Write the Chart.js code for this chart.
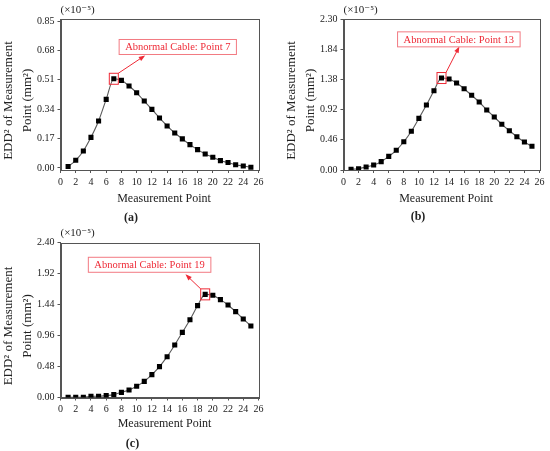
<!DOCTYPE html>
<html>
<head>
<meta charset="utf-8">
<script src="https://cdn.jsdelivr.net/npm/chart.js@4.4.1/dist/chart.umd.min.js"></script>
<style>
  html, body { margin: 0; padding: 0; background: #fff; }
  #wrap { position: relative; width: 550px; height: 451px; background: #fff; }
  canvas { position: absolute; }
</style>
</head>
<body>
<div id="wrap">
  <canvas id="chartA"></canvas>
  <canvas id="chartB"></canvas>
  <canvas id="chartC"></canvas>
</div>
<script>
// Messpunkte und Werte (Einheit 1e-5 mm²)
const measurementPoints = [1, 2, 3, 4, 5, 6, 7, 8, 9, 10, 11, 12, 13, 14, 15, 16, 17, 18, 19, 20, 21, 22, 23, 24, 25];
const xTicks = [0, 2, 4, 6, 8, 10, 12, 14, 16, 18, 20, 22, 24, 26];

const eddA = [0.008, 0.044, 0.098, 0.177, 0.272, 0.397, 0.516, 0.507, 0.474, 0.435, 0.387, 0.339, 0.289,
              0.243, 0.202, 0.168, 0.135, 0.106, 0.081, 0.062, 0.042, 0.031, 0.018, 0.011, 0.004];
const eddB = [0.010, 0.020, 0.046, 0.076, 0.127, 0.208, 0.300, 0.430, 0.590, 0.787, 0.990, 1.208, 1.401,
              1.386, 1.325, 1.238, 1.138, 1.036, 0.914, 0.807, 0.696, 0.599, 0.507, 0.426, 0.361];
const eddC = [0.005, 0.005, 0.005, 0.018, 0.020, 0.030, 0.045, 0.080, 0.116, 0.173, 0.250, 0.354, 0.478,
              0.632, 0.813, 1.009, 1.205, 1.422, 1.597, 1.582, 1.515, 1.432, 1.329, 1.216, 1.107];

const yTicksA = [0.00, 0.17, 0.34, 0.51, 0.68, 0.85];
const yTicksB = [0.00, 0.46, 0.92, 1.38, 1.84, 2.30];
const yTicksC = [0.00, 0.48, 0.96, 1.44, 1.92, 2.40];

const abnormalPoints = [7, 13, 19];
const captions = ["(a)", "(b)", "(c)"];

const SERIF = "'Liberation Serif', 'DejaVu Serif', serif";
const RED = "#ee2a36";

// Panel-Layout (Pixel im Canvas)
const panels = [
  { id: "chartA", left: 0,   top: 0,   w: 275, h: 225, area: { l: 60.5, r: 258.5, t: 19, b: 170 },
    values: eddA, yTicks: yTicksA, yMin: -0.012, yMax: 0.862,
    label: { x: 15.4, y: 0.70 }, arrowTo: { x: 10.9, y: 0.645 }, arrowFrom: "tr",
    xTitle: { x: 164, y: 199 }, caption: { x: 131, y: 218 } },
  { id: "chartB", left: 275, top: 0,   w: 275, h: 225, area: { l: 68.5, r: 264.5, t: 19, b: 170 },
    values: eddB, yTicks: yTicksB, yMin: 0, yMax: 2.30,
    label: { x: 15.3, y: 1.99 }, arrowTo: { x: 15.25, y: 1.855 }, arrowFrom: "tr",
    xTitle: { x: 171, y: 199 }, caption: { x: 143, y: 217 } },
  { id: "chartC", left: 0,   top: 225, w: 275, h: 226, area: { l: 60.5, r: 258.5, t: 17.5, b: 172.5 },
    values: eddC, yTicks: yTicksC, yMin: 0, yMax: 2.40,
    label: { x: 11.7, y: 2.055 }, arrowTo: { x: 16.6, y: 1.886 }, arrowFrom: "tl",
    xTitle: { x: 164.5, y: 199 }, caption: { x: 132.5, y: 218.5 } }
];

// Rahmen, Achsentitel, Beschriftung
const decorPlugin = {
  id: "decor",
  afterDraw(chart) {
    const p = chart.options.plugins.decor.panel;
    const ctx = chart.ctx;
    const a = chart.chartArea;
    ctx.save();
    ctx.strokeStyle = "#555";
    ctx.lineWidth = 1;
    ctx.strokeRect(Math.round(a.left) + 0.5, Math.round(a.top) + 0.5,
                   Math.round(a.right - a.left), Math.round(a.bottom - a.top));

    ctx.fillStyle = "#222";
    ctx.textBaseline = "middle";
    ctx.textAlign = "left";
    ctx.font = "11px " + SERIF;
    ctx.fillText("(×10⁻⁵)", a.left, a.top - 9);

    ctx.textAlign = "center";
    ctx.font = "12px " + SERIF;
    ctx.fillText("Measurement Point", p.xTitle.x, p.xTitle.y);

    ctx.font = "bold 12px " + SERIF;
    ctx.fillText(p.caption.text, p.caption.x, p.caption.y);

    const cy = (a.top + a.bottom) / 2 + 6;
    ctx.font = "13px " + SERIF;
    ctx.save();
    ctx.translate(a.left - 51.5, cy);
    ctx.rotate(-Math.PI / 2);
    ctx.fillText("EDD² of Measurement", 0, 0);
    ctx.restore();
    ctx.save();
    ctx.translate(a.left - 32.5, cy);
    ctx.rotate(-Math.PI / 2);
    ctx.fillText("Point (mm²)", 0, 0);
    ctx.restore();

    // Anmerkung: auffälliges Kabel
    const xs = chart.scales.x, ys = chart.scales.y;
    const idx = measurementPoints.indexOf(p.abnormal);
    const px = xs.getPixelForValue(p.abnormal);
    const py = ys.getPixelForValue(p.values[idx]);
    ctx.strokeStyle = RED;
    ctx.lineWidth = 1;
    ctx.strokeRect(px - 4.5, py - 5.5, 9, 11);

    const sx = p.arrowFrom === "tr" ? px + 4.5 : px - 4.5;
    const sy = py - 5.5;
    const ex = xs.getPixelForValue(p.arrowTo.x);
    const ey = ys.getPixelForValue(p.arrowTo.y);
    ctx.beginPath();
    ctx.moveTo(sx, sy);
    ctx.lineTo(ex, ey);
    ctx.stroke();
    const ang = Math.atan2(ey - sy, ex - sx);
    ctx.fillStyle = RED;
    ctx.beginPath();
    ctx.moveTo(ex + Math.cos(ang) * 2, ey + Math.sin(ang) * 2);
    ctx.lineTo(ex - Math.cos(ang - 0.5) * 5, ey - Math.sin(ang - 0.5) * 5);
    ctx.lineTo(ex - Math.cos(ang + 0.5) * 5, ey - Math.sin(ang + 0.5) * 5);
    ctx.closePath();
    ctx.fill();

    ctx.font = "10.5px " + SERIF;
    const text = "Abnormal Cable: Point " + p.abnormal;
    const tw = ctx.measureText(text).width + 12;
    const lx = xs.getPixelForValue(p.label.x);
    const ly = ys.getPixelForValue(p.label.y);
    ctx.fillStyle = "#fff";
    ctx.fillRect(lx - tw / 2, ly - 7.5, tw, 15);
    ctx.strokeStyle = "#f27a82";
    ctx.strokeRect(lx - tw / 2, ly - 7.5, tw, 15);
    ctx.fillStyle = RED;
    ctx.fillText(text, lx, ly + 0.5);
    ctx.restore();
  }
};

panels.forEach((p, i) => {
  const canvas = document.getElementById(p.id);
  canvas.style.left = p.left + "px";
  canvas.style.top = p.top + "px";
  canvas.style.width = p.w + "px";
  canvas.style.height = p.h + "px";
  canvas.width = p.w;
  canvas.height = p.h;
  p.abnormal = abnormalPoints[i];
  p.caption.text = captions[i];

  new Chart(canvas, {
    type: "line",
    data: {
      datasets: [{
        data: measurementPoints.map((m, k) => ({ x: m, y: p.values[k] })),
        borderColor: "#5a5a5a",
        borderWidth: 1.1,
        cubicInterpolationMode: "monotone",
        pointStyle: "rect",
        pointRadius: 3.6,
        pointBackgroundColor: "#000",
        pointBorderColor: "#000",
        pointBorderWidth: 0,
        fill: false
      }]
    },
    options: {
      responsive: false,
      animation: false,
      devicePixelRatio: 1,
      layout: { padding: { left: 0, top: p.area.t, right: p.w - p.area.r, bottom: 0 } },
      plugins: {
        legend: { display: false },
        tooltip: { enabled: false },
        decor: { panel: p }
      },
      scales: {
        x: {
          type: "linear",
          min: 0,
          max: 26,
          afterBuildTicks: s => { s.ticks = xTicks.map(v => ({ value: v })); },
          afterFit: s => { s.height = p.h - p.area.b; },
          ticks: { font: { family: SERIF, size: 10 }, color: "#222", padding: 3, maxRotation: 0 },
          grid: { drawOnChartArea: false, drawTicks: true, tickLength: 3, color: "#555" },
          border: { color: "#555" }
        },
        y: {
          min: p.yMin,
          max: p.yMax,
          afterBuildTicks: s => { s.ticks = p.yTicks.map(v => ({ value: v })); },
          afterFit: s => { s.width = p.area.l; },
          ticks: {
            font: { family: SERIF, size: 10 }, color: "#222", padding: 3,
            callback: v => v.toFixed(2)
          },
          grid: { drawOnChartArea: false, drawTicks: true, tickLength: 3, color: "#555" },
          border: { color: "#555" }
        }
      }
    },
    plugins: [decorPlugin]
  });
});
</script>
</body>
</html>
